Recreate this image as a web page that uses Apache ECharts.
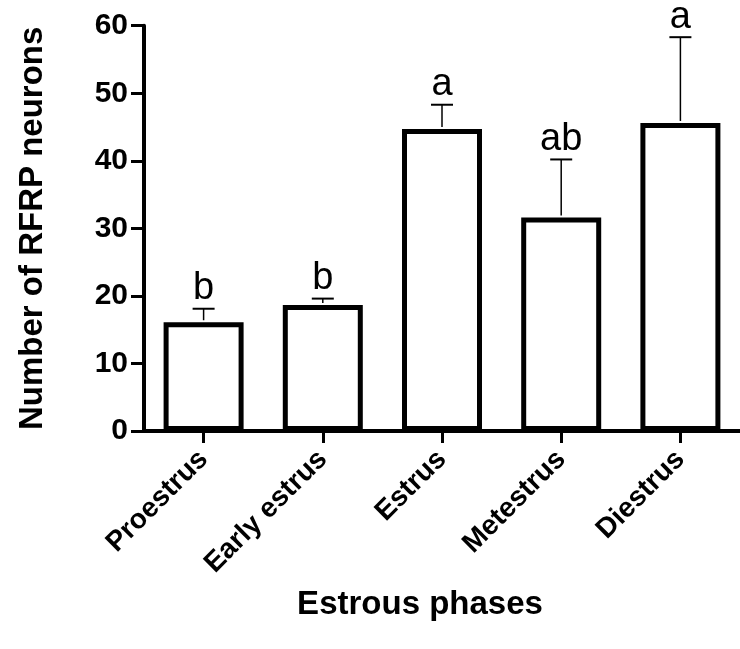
<!DOCTYPE html>
<html>
<head>
<meta charset="utf-8">
<script src="https://cdn.jsdelivr.net/npm/echarts@6/dist/echarts.min.js"></script>
<style>
html,body{margin:0;padding:0;background:#fff;}
#main{width:740px;height:649px;}
</style>
</head>
<body>
<div id="main"></div>
<script>
const categories = ['Proestrus', 'Early estrus', 'Estrus', 'Metestrus', 'Diestrus'];
const meanValues = [16.1, 18.65, 44.7, 31.6, 45.6];
const upperError = [18.1, 19.6, 48.3, 40.2, 58.3];
const groupLetters = ['b', 'b', 'a', 'ab', 'a'];
const yMin = 0, yMax = 60, yInterval = 10;

const FONT = '"Liberation Sans", Arial, sans-serif';
const chart = echarts.init(document.getElementById('main'));

const errData = categories.map((c, i) => [i, meanValues[i], upperError[i]]);

chart.setOption({
  animation: false,
  backgroundColor: '#fff',
  grid: { left: 144, top: 25.7, width: 608, height: 405.3, containLabel: false },
  xAxis: {
    type: 'category',
    data: categories,
    boundaryGap: true,
    axisLine: { show: true, lineStyle: { color: '#000', width: 4 } },
    axisTick: { show: true, alignWithLabel: true, length: 12, lineStyle: { color: '#000', width: 3 } },
    axisLabel: { rotate: 45, margin: 24, color: '#000', fontFamily: FONT, fontWeight: 'bold', fontSize: 28, interval: 0 },
    splitLine: { show: false }
  },
  yAxis: {
    type: 'value',
    min: yMin, max: yMax, interval: yInterval,
    name: 'Number of RFRP neurons',
    nameLocation: 'middle',
    nameGap: 95,
    nameTextStyle: { color: '#000', fontFamily: FONT, fontWeight: 'bold', fontSize: 33 },
    axisLine: { show: true, lineStyle: { color: '#000', width: 4 } },
    axisTick: { show: true, length: 13, lineStyle: { color: '#000', width: 3 } },
    axisLabel: { margin: 16, color: '#000', fontFamily: FONT, fontWeight: 'bold', fontSize: 30 },
    splitLine: { show: false }
  },
  graphic: [{
    type: 'text',
    x: 420,
    y: 605,
    style: { text: 'Estrous phases', fill: '#000', font: 'bold 33px ' + FONT, textAlign: 'center', textVerticalAlign: 'middle' }
  }],
  series: [
    {
      type: 'bar',
      data: meanValues,
      barWidth: 80,
      itemStyle: { color: '#fff', borderColor: '#000', borderWidth: 5 },
      z: 3
    },
    {
      type: 'custom',
      data: errData,
      z: 4,
      renderItem: function (params, api) {
        const i = api.value(0);
        const base = api.coord([i, api.value(1)]);
        const top = api.coord([i, api.value(2)]);
        const txt = groupLetters[params.dataIndex];
        return {
          type: 'group',
          children: [
            { type: 'line', shape: { x1: base[0], y1: base[1] - 2, x2: top[0], y2: top[1] }, style: { stroke: '#000', lineWidth: 1.5 } },
            { type: 'line', shape: { x1: top[0] - 11, y1: top[1], x2: top[0] + 11, y2: top[1] }, style: { stroke: '#000', lineWidth: 2 } },
            { type: 'text', x: top[0], y: top[1] - 1, style: { text: txt, fill: '#000', font: '38px ' + FONT, textAlign: 'center', textVerticalAlign: 'bottom' } }
          ]
        };
      }
    }
  ]
});
</script>
</body>
</html>
